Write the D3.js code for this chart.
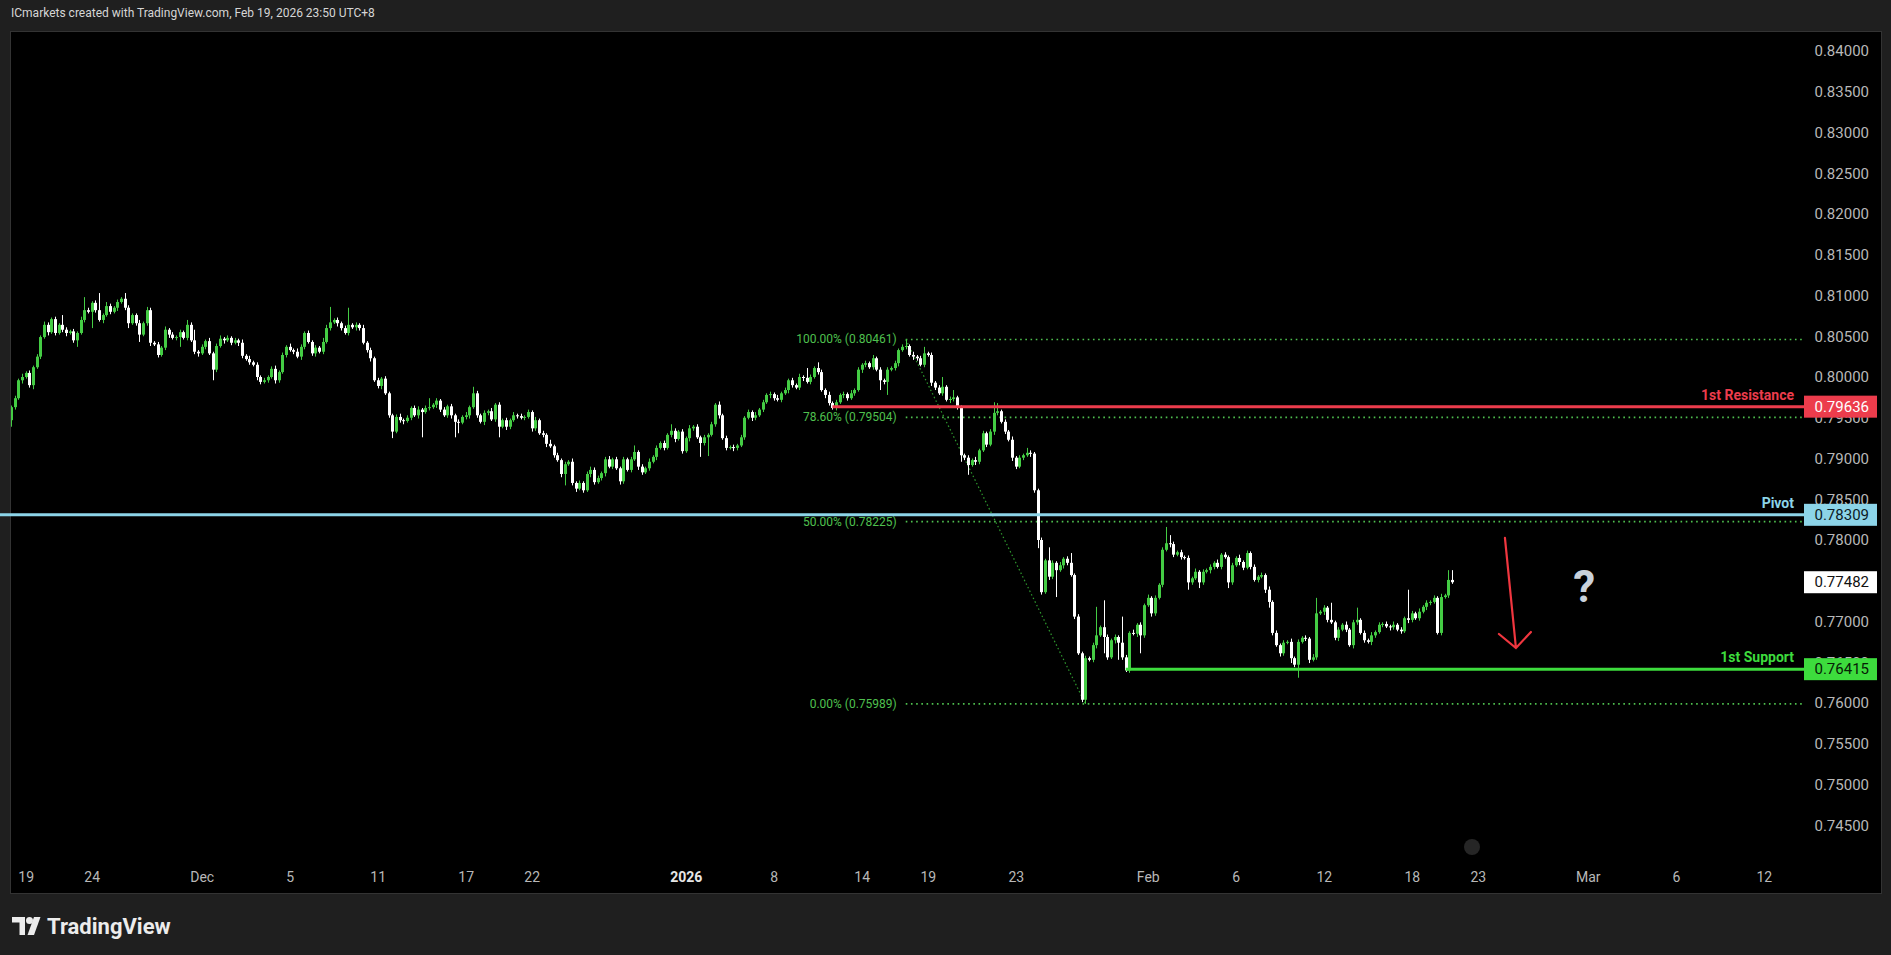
<!DOCTYPE html>
<html lang="en">
<head>
<meta charset="utf-8" />
<title>ICmarkets 4H chart</title>
<script src="https://cdn.jsdelivr.net/npm/d3@7/dist/d3.min.js"></script>
<style>
  html, body { margin: 0; padding: 0; background: #1f1f1f; }
  svg { display: block; }
</style>
</head>
<body>
<script>
// ---- data (4H candles) ----
var firstOpen = 0.7947;
var closes = [
  0.7963,0.7974,0.7996,0.8000,0.8005,0.7990,0.8012,0.8025,0.8049,0.8064,0.8055,0.8071,0.8054,0.8064,0.8058,0.8054,0.8056,0.8045,0.8054,0.8070,
  0.8082,0.8080,0.8091,0.8082,0.8070,0.8076,0.8087,0.8080,0.8085,0.8092,0.8096,0.8085,0.8066,0.8076,0.8066,0.8052,0.8066,0.8082,0.8042,0.8040,
  0.8027,0.8036,0.8058,0.8052,0.8048,0.8049,0.8055,0.8048,0.8064,0.8045,0.8031,0.8029,0.8037,0.8044,0.8029,0.8009,0.8038,0.8047,0.8045,0.8048,
  0.8042,0.8045,0.8042,0.8026,0.8022,0.8018,0.8015,0.8000,0.7994,0.7996,0.8000,0.8010,0.7996,0.8006,0.8027,0.8037,0.8033,0.8031,0.8025,0.8037,
  0.8054,0.8043,0.8029,0.8036,0.8031,0.8043,0.8060,0.8067,0.8070,0.8066,0.8060,0.8054,0.8064,0.8061,0.8064,0.8060,0.8042,0.8033,0.8023,0.7996,
  0.7989,0.7998,0.7980,0.7953,0.7933,0.7951,0.7947,0.7946,0.7950,0.7962,0.7953,0.7960,0.7957,0.7962,0.7963,0.7966,0.7971,0.7960,0.7953,0.7964,
  0.7953,0.7945,0.7944,0.7951,0.7953,0.7963,0.7980,0.7953,0.7945,0.7956,0.7958,0.7948,0.7966,0.7939,0.7947,0.7939,0.7947,0.7953,0.7952,0.7950,
  0.7951,0.7957,0.7937,0.7947,0.7931,0.7929,0.7918,0.7915,0.7904,0.7898,0.7881,0.7893,0.7896,0.7870,0.7863,0.7870,0.7861,0.7881,0.7886,0.7871,
  0.7876,0.7882,0.7899,0.7890,0.7899,0.7888,0.7872,0.7899,0.7886,0.7899,0.7908,0.7890,0.7883,0.7888,0.7896,0.7902,0.7913,0.7919,0.7913,0.7929,
  0.7934,0.7924,0.7933,0.7909,0.7925,0.7937,0.7939,0.7926,0.7919,0.7926,0.7929,0.7942,0.7966,0.7953,0.7925,0.7913,0.7914,0.7913,0.7916,0.7926,
  0.7950,0.7957,0.7950,0.7953,0.7960,0.7969,0.7978,0.7979,0.7974,0.7972,0.7980,0.7984,0.7996,0.7990,0.7987,0.8000,0.7999,0.7994,0.8000,0.8011,
  0.8006,0.7984,0.7978,0.7968,0.7962,0.7969,0.7978,0.7979,0.7974,0.7980,0.7984,0.8009,0.8015,0.8017,0.8012,0.8023,0.8009,0.7996,0.7994,0.8009,
  0.8011,0.8017,0.8033,0.8037,0.8038,0.8027,0.8025,0.8023,0.8015,0.8029,0.8027,0.7993,0.7987,0.7980,0.7988,0.7972,0.7973,0.7975,0.7962,0.7904,
  0.7901,0.7892,0.7898,0.7896,0.7910,0.7931,0.7917,0.7933,0.7956,0.7958,0.7945,0.7933,0.7923,0.7901,0.7890,0.7901,0.7904,0.7907,0.7906,0.7861,
  0.7800,0.7736,0.7775,0.7755,0.7772,0.7763,0.7769,0.7777,0.7772,0.7757,0.7706,0.7661,0.7604,0.7655,0.7653,0.7671,0.7683,0.7693,0.7681,0.7656,
  0.7677,0.7681,0.7674,0.7656,0.7640,0.7686,0.7685,0.7696,0.7683,0.7720,0.7729,0.7710,0.7729,0.7745,0.7788,0.7796,0.7795,0.7782,0.7785,0.7779,
  0.7778,0.7748,0.7753,0.7761,0.7748,0.7761,0.7763,0.7767,0.7772,0.7767,0.7782,0.7779,0.7748,0.7769,0.7778,0.7773,0.7766,0.7784,0.7767,0.7751,
  0.7755,0.7757,0.7739,0.7724,0.7686,0.7671,0.7661,0.7674,0.7675,0.7655,0.7647,0.7675,0.7680,0.7679,0.7653,0.7656,0.7710,0.7712,0.7717,0.7702,
  0.7699,0.7680,0.7690,0.7696,0.7690,0.7671,0.7699,0.7702,0.7686,0.7677,0.7675,0.7683,0.7687,0.7696,0.7697,0.7694,0.7693,0.7696,0.7690,0.7688,
  0.7704,0.7702,0.7710,0.7704,0.7712,0.7718,0.7723,0.7724,0.7729,0.7686,0.7730,0.7732,0.7751,0.77482
];
// wick lengths above / below the body, in pips
var wickUp = [
  2,3,2,4,2,3,2,3,2,4,3,2,3,2,12,3,2,3,2,4,
  16,3,2,3,21,2,5,3,2,3,2,7,3,2,2,4,2,4,3,2,
  3,2,4,2,3,2,3,2,6,3,13,2,3,2,4,2,3,4,2,3,
  2,3,2,4,2,4,2,3,2,3,2,3,4,2,3,2,4,2,4,3,
  2,3,2,3,2,5,4,19,2,3,2,3,21,2,3,2,4,2,3,2,
  3,2,3,2,2,3,4,2,3,2,3,4,2,3,11,2,3,2,3,2,
  3,2,3,2,4,2,8,3,2,3,2,4,2,3,2,3,2,4,2,3,
  2,3,2,4,2,3,2,5,2,3,2,3,2,4,2,3,2,3,4,3,
  3,2,3,4,2,3,2,3,2,3,8,2,3,2,4,2,3,2,3,2,
  8,3,2,3,2,4,2,3,2,3,2,3,2,4,2,3,2,3,2,3,
  2,3,2,4,2,3,2,3,2,4,2,3,2,3,2,4,2,12,3,2,
  7,3,2,4,2,3,2,3,2,4,2,3,2,3,2,4,2,3,2,3,
  2,3,2,3,8,2,4,2,3,8,2,3,2,3,12,2,3,9,2,3,
  2,3,2,4,2,3,2,3,13,10,2,3,2,4,2,3,2,6,3,2,
  2,3,2,16,3,2,4,2,3,12,2,3,2,3,2,3,35,2,33,3,
  2,3,2,32,3,2,4,2,3,2,4,2,3,2,3,20,10,3,2,3,
  2,3,2,4,2,3,2,3,2,4,2,3,2,3,2,4,2,3,2,3,
  2,3,2,4,2,3,2,3,2,4,2,3,2,3,2,4,19,2,3,2,
  21,2,3,2,4,2,3,15,2,3,2,4,2,3,2,3,2,4,2,3,
  2,35,3,2,4,2,3,2,3,2,4,2,12,12
];
var wickDown = [
  8,3,2,4,2,3,5,2,3,2,4,2,3,2,3,4,2,3,8,2,
  3,2,20,3,2,4,2,3,2,4,2,3,6,2,3,9,2,3,4,2,
  3,2,3,4,2,3,12,2,3,2,3,4,2,3,2,13,3,2,4,2,
  3,2,4,3,2,3,2,4,3,2,3,2,4,3,2,3,2,3,2,4,
  3,2,3,4,2,3,2,3,2,4,3,2,3,2,4,3,2,3,4,2,
  3,4,2,3,8,2,3,4,2,3,2,4,31,2,3,2,4,3,2,3,
  4,19,13,2,3,4,2,3,2,4,3,2,3,13,2,4,3,2,3,2,
  3,2,4,3,2,3,4,2,3,2,4,14,2,3,4,2,3,2,4,3,
  2,3,4,2,3,2,4,3,2,3,2,4,3,2,3,2,4,2,3,2,
  3,4,2,3,2,4,3,2,17,3,23,2,3,4,2,3,2,4,3,2,
  3,2,4,3,2,3,2,4,3,2,3,2,4,3,2,3,4,2,3,2,
  3,2,4,3,2,3,2,4,3,2,3,2,4,3,2,3,2,12,3,16,
  2,3,4,2,3,2,4,3,2,3,2,4,3,2,3,2,4,3,2,8,
  3,12,2,4,3,2,3,2,4,3,2,3,2,4,3,2,3,2,4,3,
  10,3,2,4,3,33,2,4,3,2,3,2,3,5,2,3,4,2,20,3,
  2,4,21,3,2,3,2,4,22,3,2,4,3,2,3,2,4,3,2,3,
  2,9,3,2,7,3,2,4,3,2,3,2,7,3,2,4,3,2,3,2,
  3,2,4,7,3,2,4,3,2,6,3,16,2,3,4,2,3,2,4,3,
  2,3,4,2,3,2,4,3,2,3,2,4,3,2,3,2,4,3,2,3,
  2,4,3,2,3,2,4,3,2,2,3,2,3,2
];

// time axis: bar index of each label
var timeTickBars = [4, 22, 52, 76, 100, 124, 142, 184, 208, 232, 250, 274, 310, 334, 358, 382, 400, 430, 454, 478];
var timeTickLabels = ["19", "24", "Dec", "5", "11", "17", "22", "2026", "8", "14", "19", "23", "Feb", "6", "12", "18", "23", "Mar", "6", "12"];
var priceTicks = [0.745, 0.75, 0.755, 0.76, 0.765, 0.77, 0.775, 0.78, 0.785, 0.79, 0.795, 0.80, 0.805, 0.81, 0.815, 0.82, 0.825, 0.83, 0.835, 0.84];

// levels
var resistance = 0.79636, resistanceFromBar = 224;
var pivot = 0.78309;
var support = 0.76415, supportFromBar = 304;

// fibonacci retracement
var fibHigh = 0.80461, fibHighBar = 244;
var fibLow = 0.75989, fibLowBar = 293;
var fibRatios = [1, 0.786, 0.5, 0];

// annotation arrow and question mark (bar, price)
var arrowFrom = [407.4, 0.78025];
var arrowTo = [410.4, 0.76675];
var questionAt = [429, 0.77423];

// ---- layout ----
var W = 1891, H = 955;
var paneLeft = 10, paneTop = 31, paneRight = 1882, paneBottom = 894;
var plotRight = 1802;
var boxLeft = 1804, boxWidth = 73, boxHeight = 22;
var axisTextX = 1869;

var green = "#44cc44";
var red = "#ec3c4c";
var blue = "#8cd4e8";
var supGreen = "#3ddc3d";
var fibGreen = "#4fc04f";

var candles = closes.map(function(c, i) {
  var o = i === 0 ? firstOpen : closes[i - 1];
  return {
    i: i, o: o, c: c,
    h: Math.max(o, c) + (wickUp[i] || 0) * 0.0001,
    l: Math.min(o, c) - (wickDown[i] || 0) * 0.0001
  };
});
var lastClose = closes[closes.length - 1];

var xScale = d3.scaleLinear().domain([0, 393]).range([11, 11 + 393 * 3.667]);
var yScale = d3.scaleLinear().domain([0.745, 0.84]).range([825.25, 51]);

var svg = d3.select("body").append("svg")
  .attr("width", W)
  .attr("height", H)
  .style("font-family", "Roboto, 'Liberation Sans', sans-serif");

svg.append("rect").attr("width", W).attr("height", H).attr("fill", "#1f1f1f");

// header
svg.append("text")
  .attr("x", 11).attr("y", 13)
  .attr("dominant-baseline", "central")
  .attr("font-size", 12)
  .attr("fill", "#d6d6d6")
  .text("ICmarkets created with TradingView.com, Feb 19, 2026 23:50 UTC+8");

// chart pane
svg.append("rect")
  .attr("x", paneLeft + 0.5).attr("y", paneTop + 0.5)
  .attr("width", paneRight - paneLeft - 1).attr("height", paneBottom - paneTop - 1)
  .attr("fill", "#000")
  .attr("stroke", "#333");

svg.append("clipPath").attr("id", "plot-clip")
  .append("rect")
  .attr("x", paneLeft + 1).attr("y", paneTop + 1)
  .attr("width", plotRight - paneLeft).attr("height", paneBottom - paneTop - 2);

var plot = svg.append("g").attr("clip-path", "url(#plot-clip)");

// price axis
var yAxis = d3.axisLeft(yScale).tickValues(priceTicks).tickSize(0).tickPadding(0)
  .tickFormat(d3.format(".5f"));
var yAxisG = svg.append("g")
  .attr("transform", "translate(" + axisTextX + ",0)")
  .call(yAxis);
yAxisG.select(".domain").remove();
yAxisG.selectAll("text").attr("font-size", 15).attr("fill", "#b8b8b8")
  .attr("font-family", "Roboto, 'Liberation Sans', sans-serif");

// time axis
var xAxis = d3.axisBottom(xScale).tickValues(timeTickBars).tickSize(0).tickPadding(3)
  .tickFormat(function(d, i) { return timeTickLabels[i]; });
var xAxisG = svg.append("g")
  .attr("transform", "translate(0,869)")
  .call(xAxis);
xAxisG.select(".domain").remove();
xAxisG.selectAll("text").attr("font-size", 14).attr("fill", "#b8b8b8")
  .attr("font-family", "Roboto, 'Liberation Sans', sans-serif")
  .filter(function(d, i) { return timeTickLabels[i] === "2026"; })
  .attr("font-weight", "bold").attr("fill", "#e6e6e6");

// fibonacci
var fibX0 = xScale(fibHighBar);
fibRatios.forEach(function(r) {
  var p = fibLow + r * (fibHigh - fibLow);
  plot.append("line")
    .attr("x1", fibX0).attr("x2", plotRight)
    .attr("y1", yScale(p)).attr("y2", yScale(p))
    .attr("stroke", fibGreen).attr("stroke-width", 1.6)
    .attr("stroke-dasharray", "1.6 3.6");
  plot.append("text")
    .attr("x", fibX0 - 9).attr("y", yScale(p))
    .attr("dominant-baseline", "central")
    .attr("text-anchor", "end")
    .attr("font-size", 12)
    .attr("fill", fibGreen)
    .text((r * 100).toFixed(2) + "% (" + p.toFixed(5) + ")");
});
plot.append("line")
  .attr("x1", xScale(fibHighBar)).attr("y1", yScale(fibHigh))
  .attr("x2", xScale(fibLowBar)).attr("y2", yScale(fibLow))
  .attr("stroke", "#2f9a2f").attr("stroke-width", 1.2)
  .attr("stroke-dasharray", "1.5 2.5");

// candles
var cg = plot.append("g");
cg.selectAll("line.wick").data(candles).enter().append("line")
  .attr("class", "wick")
  .attr("x1", function(d) { return Math.round(xScale(d.i)) + 0.5; })
  .attr("x2", function(d) { return Math.round(xScale(d.i)) + 0.5; })
  .attr("y1", function(d) { return yScale(d.h); })
  .attr("y2", function(d) { return yScale(d.l); })
  .attr("stroke", function(d) { return d.c >= d.o ? green : "#fff"; })
  .attr("stroke-width", 1);
cg.selectAll("rect.body").data(candles).enter().append("rect")
  .attr("class", "body")
  .attr("x", function(d) { return Math.round(xScale(d.i)) - 1; })
  .attr("width", 3)
  .attr("y", function(d) { return yScale(Math.max(d.o, d.c)); })
  .attr("height", function(d) { return Math.max(1, Math.abs(yScale(d.o) - yScale(d.c))); })
  .attr("fill", function(d) { return d.c >= d.o ? green : "#fff"; });

// horizontal levels
var levels = [
  { v: resistance, x0: xScale(resistanceFromBar), color: red, name: "1st Resistance", text: "#fff" },
  { v: pivot, x0: 0, color: blue, name: "Pivot", text: "#0c1a24" },
  { v: support, x0: xScale(supportFromBar), color: supGreen, name: "1st Support", text: "#062006" }
];
levels.forEach(function(lv) {
  svg.append("line")
    .attr("x1", lv.x0).attr("x2", boxLeft)
    .attr("y1", yScale(lv.v)).attr("y2", yScale(lv.v))
    .attr("stroke", lv.color).attr("stroke-width", 3);
  svg.append("text")
    .attr("x", 1794).attr("y", yScale(lv.v) - 12)
    .attr("text-anchor", "end")
    .attr("dominant-baseline", "central")
    .attr("font-size", 14).attr("font-weight", "bold")
    .attr("fill", lv.color)
    .text(lv.name);
});

// price boxes on the axis
var boxes = levels.map(function(lv) { return { v: lv.v, fill: lv.color, text: lv.text }; });
boxes.push({ v: lastClose, fill: "#fff", text: "#111" });
boxes.forEach(function(b) {
  svg.append("rect")
    .attr("x", boxLeft).attr("y", yScale(b.v) - boxHeight / 2)
    .attr("width", boxWidth).attr("height", boxHeight)
    .attr("fill", b.fill);
  svg.append("text")
    .attr("x", axisTextX).attr("y", yScale(b.v))
    .attr("text-anchor", "end")
    .attr("dominant-baseline", "central")
    .attr("font-size", 15)
    .attr("fill", b.text)
    .text(b.v.toFixed(5));
});

// red arrow
var ax0 = xScale(arrowFrom[0]), ay0 = yScale(arrowFrom[1]);
var ax1 = xScale(arrowTo[0]), ay1 = yScale(arrowTo[1]);
svg.append("path")
  .attr("d", "M" + ax0 + "," + ay0 + "L" + ax1 + "," + ay1 +
    "M" + (ax1 - 17) + "," + (ay1 - 14) + "L" + ax1 + "," + ay1 + "L" + (ax1 + 15) + "," + (ay1 - 16))
  .attr("fill", "none")
  .attr("stroke", "#f0363f")
  .attr("stroke-width", 2.2)
  .attr("stroke-linecap", "round");

// question mark
svg.append("text")
  .attr("x", xScale(questionAt[0])).attr("y", yScale(questionAt[1]))
  .attr("text-anchor", "middle")
  .attr("dominant-baseline", "central")
  .attr("font-size", 44).attr("font-weight", "bold")
  .attr("fill", "#c9d2dc")
  .text("?");

// small scroll marker
svg.append("circle")
  .attr("cx", 1472).attr("cy", 847).attr("r", 8)
  .attr("fill", "#262626");

// TradingView logo
var logo = svg.append("g").attr("fill", "#ececec");
logo.append("path").attr("d", "M12,917 H25 V935 H19.5 V922.5 H12 Z");
logo.append("circle").attr("cx", 29.5).attr("cy", 920.5).attr("r", 3.5);
logo.append("path").attr("d", "M34,917 H40.5 L34,935 H27.5 Z");
logo.append("text")
  .attr("x", 47).attr("y", 926)
  .attr("dominant-baseline", "central")
  .attr("font-size", 22).attr("font-weight", "bold")
  .text("TradingView");
</script>
</body>
</html>
